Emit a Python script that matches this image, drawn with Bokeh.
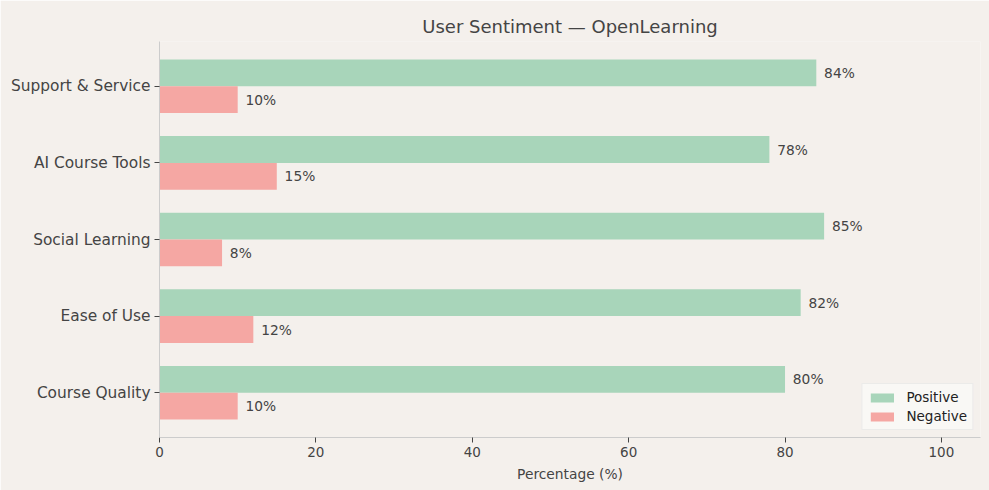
from bokeh.plotting import figure
from bokeh.models import ColumnDataSource, FixedTicker, Legend, LegendItem
from bokeh.core.properties import value
from bokeh.embed import file_html
from bokeh.resources import INLINE

categories = ["Course Quality", "Ease of Use", "Social Learning", "AI Course Tools", "Support & Service"]
positive = [80, 82, 85, 78, 84]
negative = [10, 12, 8, 15, 10]

BAR_H = 0.35
BG = "#f4f0ec"
TXT = "#444444"
FONT = "DejaVu Sans"

idx = list(range(len(categories)))
pos_src = ColumnDataSource(dict(
    y=[i + BAR_H / 2 for i in idx], v=positive,
    tx=[v + 1 for v in positive], lbl=[f"{v}%" for v in positive]))
neg_src = ColumnDataSource(dict(
    y=[i - BAR_H / 2 for i in idx], v=negative,
    tx=[v + 1 for v in negative], lbl=[f"{v}%" for v in negative]))

p = figure(width=989, height=490, output_backend="svg", toolbar_location=None,
           x_range=(0, 105), y_range=(-0.585, 4.585),
           min_border_left=159, min_border_right=9, min_border_top=41, min_border_bottom=53)
p.background_fill_color = BG
p.border_fill_color = BG
p.outline_line_color = None
p.grid.visible = False

p.title.text = "User Sentiment — OpenLearning"
p.title.align = "center"
p.title.vertical_align = "top"
p.title.text_font = FONT
p.title.text_font_size = "18px"
p.title.text_font_style = "normal"
p.title.text_color = TXT
p.title.standoff = 5

r_pos = p.hbar(y="y", right="v", left=0, height=BAR_H, source=pos_src,
               fill_color="#a8d5ba", line_color=None)
r_neg = p.hbar(y="y", right="v", left=0, height=BAR_H, source=neg_src,
               fill_color="#f5a7a3", line_color=None)

for src in (pos_src, neg_src):
    p.text(x="tx", y="y", text="lbl", source=src, text_font=value(FONT),
           text_font_size="13.8px", text_color=TXT, text_baseline="middle", text_align="left")

# axes
p.yaxis.ticker = FixedTicker(ticks=idx)
p.yaxis.major_label_overrides = {i: c for i, c in zip(idx, categories)}
p.yaxis.major_label_text_font = FONT
p.yaxis.major_label_text_font_size = "15.4px"
p.yaxis.major_label_text_color = TXT
p.xaxis.ticker = FixedTicker(ticks=[0, 20, 40, 60, 80, 100])
p.xaxis.major_label_text_font = FONT
p.xaxis.major_label_text_font_size = "13.5px"
p.xaxis.major_label_text_color = TXT
p.xaxis.axis_label = "Percentage (%)"
p.xaxis.axis_label_text_font = FONT
p.xaxis.axis_label_text_font_size = "13.8px"
p.xaxis.axis_label_text_font_style = "normal"
p.xaxis.axis_label_text_color = TXT
p.xaxis.axis_label_standoff = 6
for ax in (p.xaxis, p.yaxis):
    ax.axis_line_color = "#cccccc"
    ax.major_tick_line_color = TXT
    ax.major_tick_in = 0
    ax.major_tick_out = 5
    ax.minor_tick_line_color = None
    ax.major_label_standoff = 4

legend = Legend(items=[LegendItem(label="Positive", renderers=[r_pos]),
                       LegendItem(label="Negative", renderers=[r_neg])],
                location="bottom_right")
legend.label_text_font = FONT
legend.label_text_font_size = "13.5px"
legend.label_text_color = "#222222"
legend.background_fill_color = "#faf8f6"
legend.background_fill_alpha = 0.9
legend.border_line_color = "#dddddd"
legend.glyph_width = 29
legend.glyph_height = 11
legend.label_standoff = 10
legend.label_height = 16
legend.spacing = 3
legend.padding = 5
legend.margin = 7
p.add_layout(legend)

open("out.html", "w").write(file_html(p, INLINE))
